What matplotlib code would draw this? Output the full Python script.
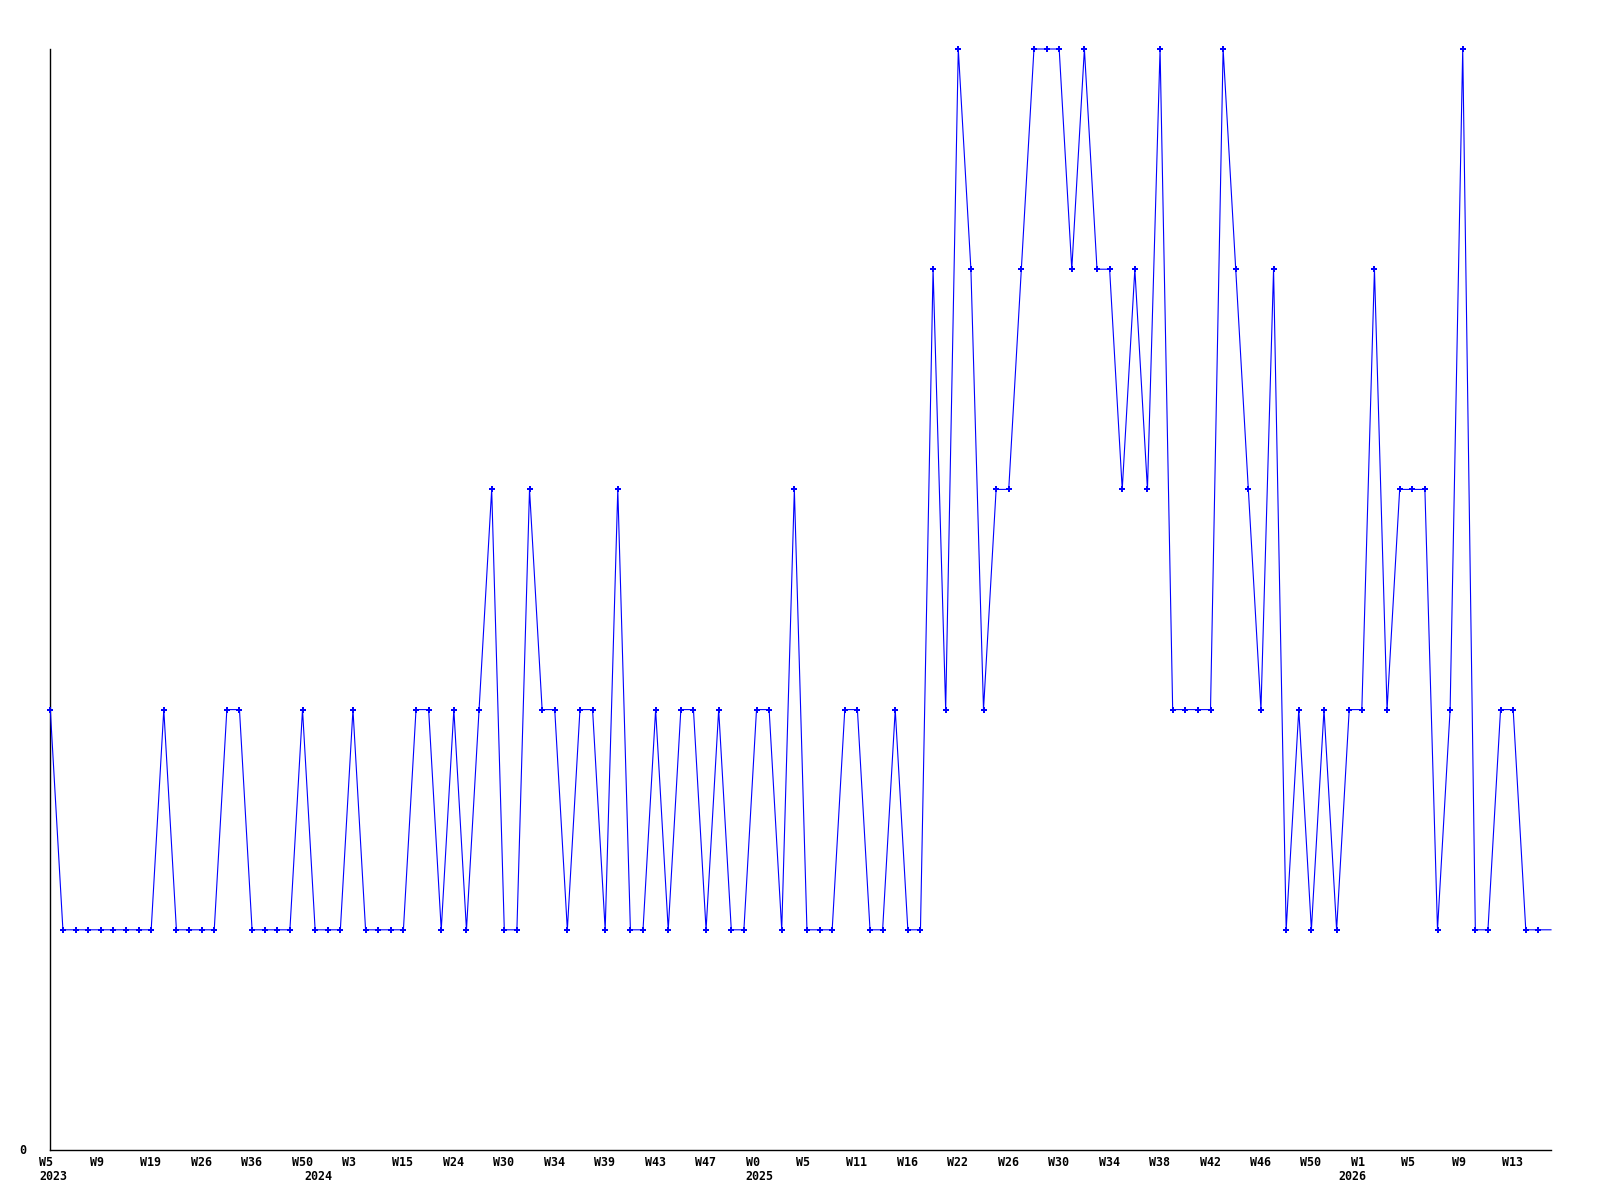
import matplotlib
matplotlib.use("Agg")
import matplotlib.pyplot as plt
import matplotlib.transforms as mtransforms

values = [2, 1, 1, 1, 1, 1, 1, 1, 1, 2,
          1, 1, 1, 1, 2, 2, 1, 1, 1, 1,
          2, 1, 1, 1, 2, 1, 1, 1, 1, 2,
          2, 1, 2, 1, 2, 3, 1, 1, 3, 2,
          2, 1, 2, 2, 1, 3, 1, 1, 2, 1,
          2, 2, 1, 2, 1, 1, 2, 2, 1, 3,
          1, 1, 1, 2, 2, 1, 1, 2, 1, 1,
          4, 2, 5, 4, 2, 3, 3, 4, 5, 5,
          5, 4, 5, 4, 4, 3, 4, 3, 5, 2,
          2, 2, 2, 5, 4, 3, 2, 4, 1, 2,
          1, 2, 1, 2, 2, 4, 2, 3, 3, 3,
          1, 2, 5, 1, 1, 2, 2, 1, 1, 1]

week_labels = ["W5", "W9", "W19", "W26", "W36", "W50", "W3", "W15", "W24", "W30",
               "W34", "W39", "W43", "W47", "W0", "W5", "W11", "W16", "W22", "W26",
               "W30", "W34", "W38", "W42", "W46", "W50", "W1", "W5", "W9", "W13"]
week_label_index = list(range(0, 120, 4))

year_labels = ["2023", "2024", "2025", "2026"]
year_label_index = [0, 21, 56, 103]

fig = plt.figure(figsize=(16, 12), dpi=100)
ax = fig.add_axes([50.3 / 1600, 1 - 1150 / 1200, (1551 - 50.3) / 1600, (1150 - 49) / 1200])

x = list(range(len(values)))
ax.plot(x, values, color="#0000ff", linewidth=0.8, marker="P", markersize=4.5,
        markeredgewidth=0, markevery=list(range(len(values) - 1)), clip_on=False,
        zorder=3)

ax.set_xlim(0, len(values) - 1)
ax.set_ylim(0, 5)

for s in ["top", "right"]:
    ax.spines[s].set_visible(False)
for s in ["left", "bottom"]:
    ax.spines[s].set_linewidth(1.0)
    ax.spines[s].set_color("black")

ax.set_xticks([])
ax.set_yticks([])

font = dict(family="DejaVu Sans Mono", fontweight="bold", fontsize=8.4, color="black")
offset = mtransforms.ScaledTranslation(-11 / 100, 0, fig.dpi_scale_trans)
trans = mtransforms.blended_transform_factory(ax.transData, ax.transAxes) + offset

for i, lab in zip(week_label_index, week_labels):
    ax.text(i, -(1162 - 1150) / 1101, lab, transform=trans, ha="left", va="center", **font)
for i, lab in zip(year_label_index, year_labels):
    ax.text(i, -(1177 - 1150) / 1101, lab, transform=trans, ha="left", va="center", **font)

ax.text(-(50.3 - 22.5) / 1500.7, 0, "0", transform=ax.transAxes, ha="center", va="center", **font)

fig.savefig("out.png", dpi=100)
